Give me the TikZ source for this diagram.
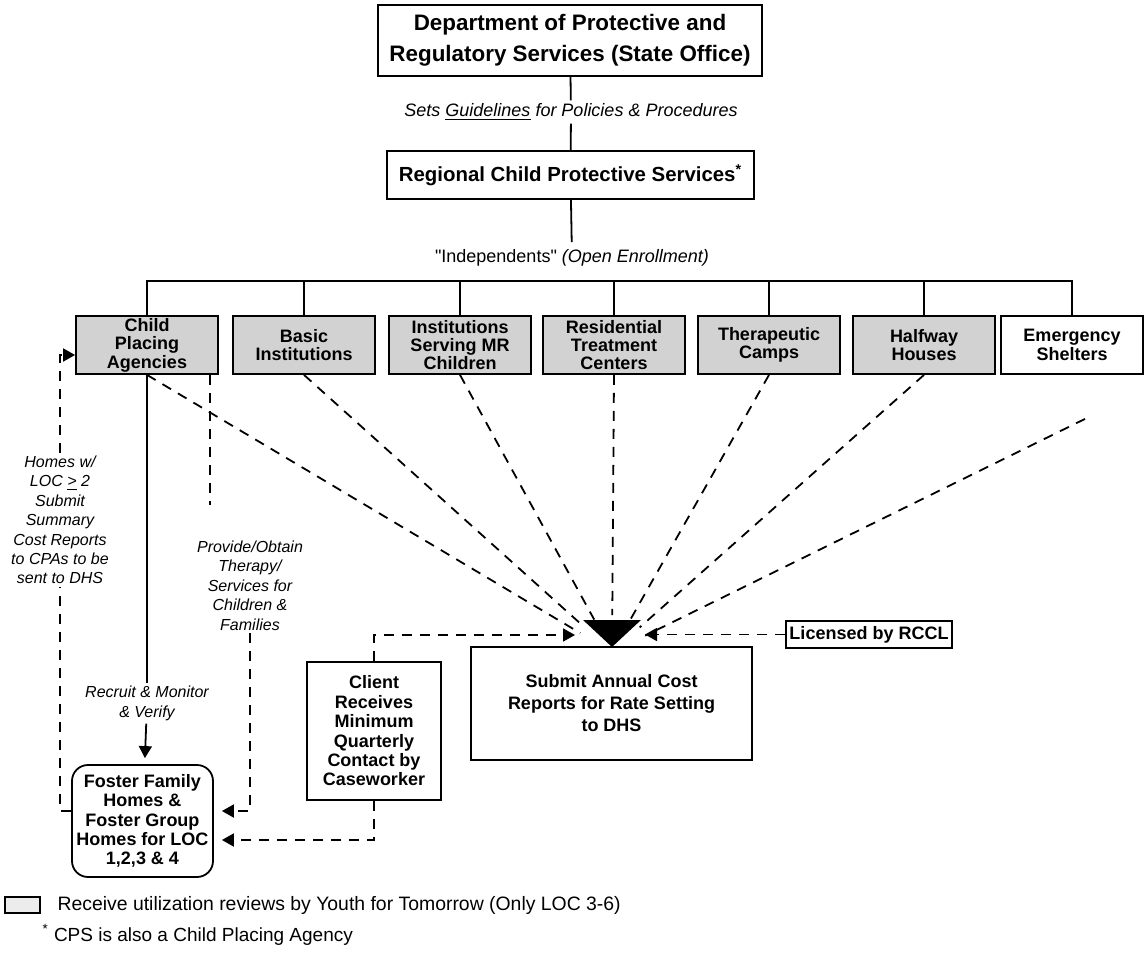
\documentclass[tikz,border=0pt]{standalone}
\usepackage{fontspec}
\setmainfont{Liberation Sans}[Ligatures=TeXOff]
\usetikzlibrary{arrows.meta}
\begin{document}
\begin{tikzpicture}[x=0.5pt, y=-0.5pt, line width=0.9pt,
    box/.style={draw, align=center, font=\bfseries\fontsize{9}{9.2}\selectfont, inner sep=1pt},
    agency/.style={box, minimum width=71pt, minimum height=29pt},
    lbl/.style={align=center, font=\itshape\fontsize{8}{9.7}\selectfont, inner sep=1pt},
    dline/.style={dash pattern=on 5pt off 4pt},
    headed/.style={-{Triangle[length=6pt,width=6.5pt]}}]
  \useasboundingbox (0,0) rectangle (1144,962);
  \node[box, minimum width=192pt, minimum height=35.5pt,
    font=\bfseries\fontsize{11.2}{15.4}\selectfont] (dept) at (570,40.5)
    {Department of Protective and\\Regulatory Services (State Office)};
  \node[lbl, font=\itshape\fontsize{9}{10}\selectfont] (sets) at (571,112)
    {Sets \underline{Guidelines} for Policies \& Procedures};
  \node[box, minimum width=183.5pt, minimum height=24pt,
    font=\bfseries\fontsize{10.2}{12}\selectfont] (cps) at (570.5,175)
    {Regional Child Protective Services\textsuperscript{*}};
  \node[font=\fontsize{9}{10}\selectfont] (indep) at (572,258)
    {"Independents" \textit{(Open Enrollment)}};
  \draw (dept) -- (sets);
  \draw (sets) -- (cps);
  \draw (cps) -- (indep);
  \coordinate (bar) at (570,281);
  \foreach[count=\i] \ux/\utxt/\ufill in {147/{Child\\Placing\\Agencies}/gray!35,
      304/{Basic\\Institutions}/gray!35, 460/{Institutions\\Serving MR\\Children}/gray!35,
      614/{Residential\\Treatment\\Centers}/gray!35, 769/{Therapeutic\\Camps}/gray!35,
      924/{Halfway\\Houses}/gray!35, 1072/{Emergency\\Shelters}/white} {
    \node[agency, fill=\ufill] (u-\i) at (\ux,345) {\utxt};
  }
  \draw (u-1.north) |- (bar) -| (u-7.north);
  \foreach \i in {2,...,6} \draw (u-\i.north) -- (u-\i.north |- bar);
  % funnel into the cost reports
  \fill (583,620) -- (641,620) -- (612,647) -- cycle;
  \coordinate (focus) at (612,652);
  \coordinate (fun-w) at (575,635);
  \coordinate (fun-e) at (645,634.5);
  \foreach \i in {1,...,6} \draw[dline, shorten >=18.5pt] (u-\i.south) -- (focus);
  \draw[dline, shorten >=18.5pt] (u-7.south) ++(13,44) -- (focus);
  \node[box, minimum width=140.5pt, minimum height=56.5pt,
    font=\bfseries\fontsize{9}{11}\selectfont] (submit) at (611.5,703.5)
    {Submit Annual Cost\\Reports for Rate Setting\\to DHS};
  \node[box, minimum width=67pt, minimum height=69pt,
    font=\bfseries\fontsize{9}{9.7}\selectfont] (client) at (374,731)
    {Client\\Receives\\Minimum\\Quarterly\\Contact by\\Caseworker};
  \node[box, minimum width=83pt, minimum height=13.5pt] (rccl) at (869,634.5) {Licensed by RCCL};
  \node[box, rounded corners=8pt, minimum width=70.5pt, minimum height=56pt,
    font=\bfseries\fontsize{9}{9.7}\selectfont] (foster) at (142.5,821)
    {Foster Family\\Homes \&\\Foster Group\\Homes for LOC\\1,2,3 \& 4};
  \node[lbl] (recruit) at (147,703.5) {Recruit \& Monitor\\\& Verify};
  \node[lbl] (homes) at (60,520)
    {Homes w/\\LOC \underline{>} 2\\Submit\\Summary\\Cost Reports\\to CPAs to be\\sent to DHS};
  \node[lbl] (therapy) at (250,585.5)
    {Provide/Obtain\\Therapy/\\Services for\\Children \&\\Families};
  \draw (u-1.south) -- (recruit);
  \draw[headed, shorten >=3pt] (recruit) -- (foster);
  \draw[dline] (foster.west |- 0,811) -| (homes.south);
  \draw[dline, headed] (homes.north) |- (u-1.west |- 0,355);
  \coordinate (cpa-drop) at (210,505);
  \draw[dline] (u-1.south east -| cpa-drop) -- (cpa-drop);
  \draw[dline, headed, shorten >=4pt] (therapy.south) |- (foster.east |- 0,811);
  \draw[dline, headed] (client.north) |- (fun-w);
  \draw[dline, headed, shorten >=4pt] (client.south) |- (foster.east |- 0,840);
  \draw[dline, headed] (rccl.west) -- (fun-e);
  % key
  \node[draw, fill=gray!15, line width=0.6pt, minimum width=17.5pt, minimum height=8pt,
    inner sep=0] (key) at (22.5,905) {};
  \node[anchor=west, font=\fontsize{9.7}{11}\selectfont] (keytxt) at (50,905)
    {Receive utilization reviews by Youth for Tomorrow (Only LOC 3-6)};
  \node[anchor=west, font=\fontsize{9.5}{11}\selectfont] (note) at (35,935)
    {\textsuperscript{*} CPS is also a Child Placing Agency};
\end{tikzpicture}
\end{document}
